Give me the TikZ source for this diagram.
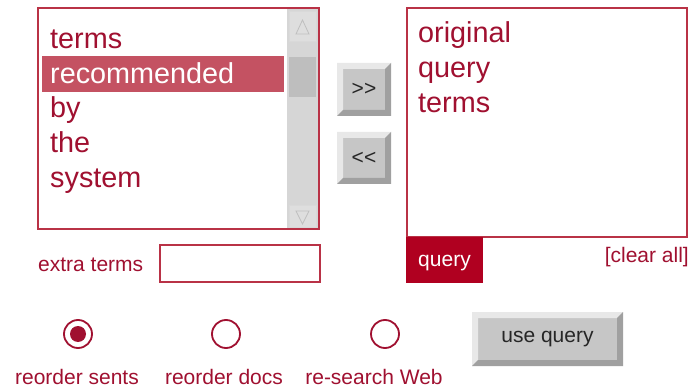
\documentclass[tikz,border=0pt]{standalone}
\usepackage{fontspec}
\setmainfont{Liberation Sans}
\definecolor{wine}{RGB}{160,16,48}
\definecolor{frame}{RGB}{185,50,70}
\definecolor{pick}{RGB}{196,82,98}
\definecolor{tab}{RGB}{176,0,32}
\definecolor{track}{RGB}{214,214,214}
\definecolor{thumb}{RGB}{190,190,190}
\definecolor{btnface}{RGB}{198,198,198}
\definecolor{btnlight}{RGB}{232,232,232}
\definecolor{btndark}{RGB}{160,160,160}
% bevelled push button: left, top, right, bottom, bevel, name, label
\newcommand\bevelbutton[7]{%
  \fill[btnface] (#1,#2) rectangle (#3,#4);
  \fill[btnlight] (#1,#2) -- (#3,#2) -- (#3-#5,#2+#5) -- (#1+#5,#2+#5) -- (#1+#5,#4-#5) -- (#1,#4) -- cycle;
  \fill[btndark] (#3,#2) -- (#3,#4) -- (#1,#4) -- (#1+#5,#4-#5) -- (#3-#5,#4-#5) -- (#3-#5,#2+#5) -- cycle;
  \node[btntext] (#6) at ({(#1+#3)/2},{(#2+#4)/2}) {#7};
}
\begin{document}
\begin{tikzpicture}[x=1pt,y=-1pt,
  listword/.style={anchor=base west,inner sep=0pt,text=wine,font=\fontsize{28.8}{30}\selectfont},
  smalltext/.style={inner sep=0pt,text=wine,font=\fontsize{21}{22}\selectfont},
  btntext/.style={inner sep=0pt,text=black!85,font=\fontsize{21}{22}\selectfont},
  box/.style={draw=frame,line width=1.6pt},
  radio/.style={draw=wine,line width=1.8pt}]
\useasboundingbox (0,0) rectangle (691,390);
\fill[white] (0,0) rectangle (691,390);

% list of suggested terms with its scrollbar
\fill[track] (287,9) rectangle (318,228);
\fill[track!80!white,draw=black!15] (289,11) rectangle (316,41);
\draw[black!25,line width=0.8pt] (296,34) -- (309,34) -- (302.5,20) -- cycle;
\fill[thumb] (289,57) rectangle (316,97);
\fill[track!80!white,draw=black!15] (289,205) rectangle (316,227);
\draw[black!25,line width=0.8pt] (296,211) -- (309,211) -- (302.5,224) -- cycle;
\fill[pick] (42,56) rectangle (284,92);
\draw[box] (38,8) rectangle (319,229);
\node[listword] (w1) at (50,49) {terms};
\node[listword,text=white] (w2) at (50,84) {recommended};
\node[listword] (w3) at (50,118) {by};
\node[listword] (w4) at (50,153) {the};
\node[listword] (w5) at (50,188) {system};

% move buttons
\bevelbutton{337}{63}{391}{116}{6}{add}{{>}{>}}
\bevelbutton{337}{132}{391}{184}{6}{remove}{{<}{<}}

% query terms
\draw[box] (407,8) rectangle (687,237);
\node[listword] (q1) at (418,43) {original};
\node[listword] (q2) at (418,78) {query};
\node[listword] (q3) at (418,113) {terms};
\fill[tab] (406.2,237) rectangle (483,283);
\node[smalltext,text=white,anchor=base] (qtab) at (444.5,266) {query};
\node[smalltext,anchor=base east] (clear) at (689,262) {[clear all]};

% extra terms field
\node[smalltext,anchor=base west] (extra) at (38,272) {extra terms};
\draw[box] (160,245) rectangle (320,282);

% result options
\draw[radio] (78,334) circle (14);
\fill[wine] (78,334) circle (8);
\draw[radio] (226,334) circle (14);
\draw[radio] (385,334) circle (14);
\node[smalltext,anchor=base] (o1) at (77,384) {reorder sents};
\node[smalltext,anchor=base] (o2) at (224,384) {reorder docs};
\node[smalltext,anchor=base] (o3) at (374,384) {re-search Web};

\bevelbutton{472}{312}{623}{366}{6}{use}{use query}
\end{tikzpicture}
\end{document}
